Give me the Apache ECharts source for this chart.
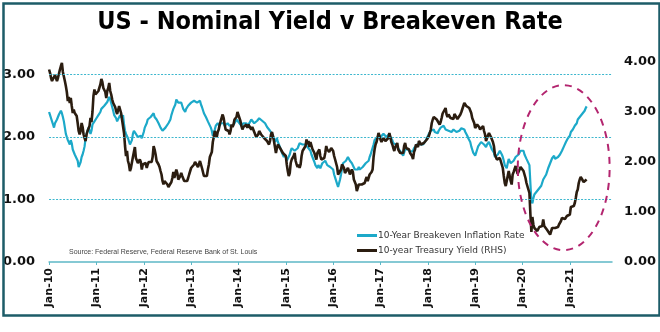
<!DOCTYPE html>
<html>
<head>
<meta charset="utf-8">
<script src="https://cdn.jsdelivr.net/npm/echarts@6/dist/echarts.min.js"></script>
<style>
html,body{margin:0;padding:0;background:#fff;}
#c{width:660px;height:332px;}
</style>
</head>
<body>
<div id="c"></div>
<script>
// Roughly weekly observations (4 per month), Jan 2010 - mid May 2021; one row per year
const startYear = 2010;
const pointsPerYear = 48;
const seriesNames = ['10-Year Breakeven Inflation Rate', '10-year Treasury Yield (RHS)'];
const xTickYears = [2010,2011,2012,2013,2014,2015,2016,2017,2018,2019,2020,2021];
const leftTicks = [0, 1, 2, 3];
const rightTicks = [0, 1, 2, 3, 4];

// 10-Year Breakeven Inflation Rate (left axis)
const breakeven = [
 2.40,2.35,2.30,2.25, 2.20,2.15,2.22,2.25, 2.28,2.32,2.36,2.38, 2.42,2.38,2.32,2.25, 2.15,2.05,2.00,1.95, 1.92,1.88,1.95,1.90, 1.80,1.78,1.72,1.75, 1.70,1.62,1.52,1.50, 1.60,1.68,1.72,1.78, 1.85,1.98,2.05,2.10, 2.15,2.12,2.05,2.10, 2.20,2.22,2.25,2.28,
 2.30,2.32,2.35,2.38, 2.40,2.45,2.42,2.48, 2.50,2.48,2.52,2.56, 2.60,2.64,2.60,2.58, 2.48,2.42,2.35,2.32, 2.30,2.25,2.22,2.28, 2.35,2.32,2.30,2.35, 2.20,2.10,2.05,2.08, 1.98,1.95,1.88,1.85, 1.95,2.05,2.10,2.12, 2.05,2.02,2.00,1.98, 1.98,2.02,1.98,2.00,
 2.08,2.15,2.18,2.22, 2.28,2.25,2.30,2.32, 2.32,2.35,2.38,2.32, 2.30,2.28,2.25,2.22, 2.20,2.15,2.12,2.10, 2.08,2.12,2.15,2.12, 2.18,2.22,2.25,2.28, 2.35,2.40,2.45,2.42, 2.52,2.60,2.62,2.55, 2.55,2.52,2.55,2.50, 2.45,2.42,2.40,2.45, 2.48,2.50,2.52,2.48,
 2.55,2.58,2.56,2.58, 2.60,2.58,2.55,2.52, 2.55,2.58,2.52,2.48, 2.45,2.38,2.35,2.32, 2.30,2.25,2.28,2.22, 2.15,2.10,2.02,2.05, 2.12,2.18,2.20,2.22, 2.22,2.18,2.22,2.20, 2.25,2.22,2.18,2.15, 2.18,2.22,2.20,2.18, 2.18,2.15,2.18,2.20, 2.22,2.25,2.28,2.26,
 2.25,2.22,2.20,2.18, 2.18,2.22,2.20,2.24, 2.22,2.18,2.20,2.22, 2.25,2.28,2.25,2.28, 2.22,2.25,2.22,2.26, 2.28,2.30,2.32,2.28, 2.26,2.25,2.28,2.22, 2.20,2.16,2.18,2.15, 2.10,2.12,2.05,2.02, 1.98,1.92,1.95,1.98, 1.92,1.88,1.85,1.80, 1.75,1.72,1.68,1.72,
 1.68,1.62,1.60,1.65, 1.72,1.78,1.82,1.85, 1.82,1.78,1.75,1.80, 1.82,1.86,1.90,1.92, 1.92,1.88,1.85,1.86, 1.88,1.90,1.85,1.82, 1.80,1.78,1.72,1.68, 1.65,1.60,1.55,1.52, 1.50,1.55,1.58,1.50, 1.52,1.58,1.55,1.58, 1.62,1.60,1.55,1.58, 1.55,1.52,1.50,1.52,
 1.48,1.40,1.35,1.32, 1.25,1.20,1.22,1.32, 1.40,1.50,1.58,1.55, 1.60,1.62,1.65,1.68, 1.65,1.62,1.60,1.58, 1.58,1.55,1.48,1.45, 1.45,1.48,1.52,1.48, 1.50,1.48,1.52,1.50, 1.55,1.58,1.60,1.56, 1.62,1.68,1.72,1.70, 1.75,1.88,1.95,1.92, 1.98,2.00,2.02,1.98,
 2.00,2.02,2.00,2.05, 2.05,2.02,2.00,1.98, 2.00,2.05,2.00,1.98, 1.95,1.90,1.88,1.92, 1.88,1.85,1.82,1.85, 1.80,1.75,1.72,1.70, 1.75,1.80,1.82,1.80, 1.80,1.78,1.76,1.75, 1.75,1.78,1.82,1.85, 1.85,1.88,1.85,1.88, 1.88,1.90,1.85,1.88, 1.90,1.92,1.95,1.98,
 2.00,2.05,2.08,2.10, 2.10,2.08,2.12,2.08, 2.10,2.08,2.06,2.10, 2.12,2.15,2.18,2.16, 2.18,2.15,2.12,2.10, 2.12,2.10,2.12,2.08, 2.08,2.10,2.12,2.10, 2.12,2.08,2.06,2.08, 2.10,2.12,2.14,2.12, 2.15,2.12,2.08,2.05, 2.02,1.98,1.95,1.92, 1.85,1.80,1.75,1.72,
 1.70,1.75,1.80,1.85, 1.85,1.88,1.92,1.94, 1.92,1.88,1.85,1.84, 1.88,1.90,1.92,1.88, 1.85,1.80,1.78,1.75, 1.68,1.70,1.68,1.72, 1.75,1.78,1.76,1.72, 1.68,1.62,1.55,1.52, 1.50,1.58,1.65,1.62, 1.58,1.55,1.60,1.62, 1.65,1.68,1.65,1.68, 1.72,1.75,1.78,1.78,
 1.75,1.78,1.72,1.70, 1.65,1.68,1.62,1.55, 1.25,0.98,0.94,1.02, 1.08,1.05,1.12,1.10, 1.12,1.18,1.15,1.22, 1.25,1.32,1.30,1.35, 1.40,1.45,1.50,1.52, 1.58,1.62,1.66,1.68, 1.70,1.65,1.62,1.66, 1.68,1.70,1.72,1.74, 1.78,1.80,1.85,1.88, 1.92,1.95,1.98,2.00,
 2.02,2.08,2.10,2.12, 2.15,2.18,2.16,2.22, 2.28,2.30,2.32,2.30, 2.35,2.38,2.36,2.42, 2.46,2.49
];

// 10-year Treasury Yield (right axis)
const treasury = [
 3.85,3.78,3.68,3.62, 3.60,3.66,3.74,3.68, 3.62,3.68,3.72,3.85, 3.92,3.98,3.80,3.78, 3.62,3.52,3.40,3.22, 3.30,3.18,3.28,3.12, 2.98,3.05,2.98,3.02, 2.92,2.78,2.62,2.55, 2.62,2.78,2.70,2.55, 2.48,2.42,2.55,2.62, 2.60,2.72,2.88,2.80, 3.00,3.32,3.45,3.35,
 3.35,3.38,3.42,3.40, 3.55,3.66,3.60,3.48, 3.52,3.40,3.28,3.42, 3.48,3.58,3.42,3.35, 3.25,3.18,3.15,3.10, 3.02,2.96,2.95,3.12, 3.15,2.98,2.95,2.98, 2.58,2.32,2.12,2.22, 2.02,1.95,1.82,1.88, 1.90,2.10,2.20,2.30, 2.08,2.05,1.98,1.95, 2.05,2.00,1.85,1.95,
 1.97,1.92,1.98,1.88, 1.95,2.00,2.02,1.98, 2.00,2.10,2.32,2.25, 2.15,2.02,1.98,1.95, 1.90,1.82,1.75,1.62, 1.55,1.62,1.65,1.60, 1.55,1.50,1.46,1.52, 1.60,1.68,1.80,1.68, 1.65,1.85,1.78,1.65, 1.65,1.72,1.78,1.72, 1.70,1.62,1.60,1.65, 1.62,1.68,1.75,1.76,
 1.88,1.90,1.86,1.95, 2.00,1.98,2.02,1.90, 1.88,2.02,1.98,1.88, 1.80,1.72,1.70,1.68, 1.72,1.85,1.95,2.10, 2.15,2.20,2.40,2.50, 2.62,2.58,2.50,2.60, 2.65,2.75,2.82,2.85, 2.95,2.88,2.75,2.65, 2.62,2.68,2.62,2.55, 2.62,2.75,2.70,2.75, 2.85,2.88,2.90,3.00,
 2.98,2.88,2.82,2.72, 2.65,2.70,2.72,2.68, 2.75,2.68,2.75,2.72, 2.78,2.65,2.70,2.66, 2.60,2.55,2.50,2.48, 2.55,2.62,2.62,2.55, 2.58,2.52,2.48,2.50, 2.48,2.42,2.38,2.35, 2.42,2.55,2.60,2.52, 2.42,2.30,2.18,2.28, 2.35,2.38,2.32,2.25, 2.25,2.18,2.15,2.22,
 2.12,1.95,1.82,1.72, 1.78,1.98,2.05,2.05, 2.12,2.18,2.02,1.95, 1.90,1.95,1.88,1.95, 2.12,2.22,2.20,2.18, 2.32,2.45,2.35,2.42, 2.30,2.40,2.38,2.26, 2.22,2.18,2.15,2.05, 2.18,2.22,2.25,2.12, 2.05,2.08,2.02,2.08, 2.18,2.32,2.25,2.24, 2.20,2.22,2.28,2.25,
 2.22,2.12,2.05,2.02, 1.90,1.75,1.72,1.78, 1.85,1.95,1.92,1.88, 1.78,1.75,1.82,1.88, 1.82,1.75,1.80,1.85, 1.80,1.65,1.62,1.55, 1.42,1.38,1.55,1.52, 1.55,1.55,1.58,1.56, 1.58,1.65,1.70,1.62, 1.62,1.75,1.78,1.80, 1.85,2.10,2.25,2.35, 2.40,2.48,2.58,2.52,
 2.45,2.40,2.38,2.48, 2.48,2.42,2.45,2.38, 2.48,2.58,2.50,2.40, 2.35,2.28,2.22,2.30, 2.32,2.38,2.25,2.25, 2.18,2.20,2.15,2.18, 2.32,2.38,2.28,2.30, 2.25,2.25,2.18,2.20, 2.12,2.06,2.20,2.25, 2.35,2.35,2.30,2.42, 2.38,2.35,2.35,2.38, 2.38,2.38,2.42,2.45,
 2.45,2.52,2.58,2.65, 2.78,2.85,2.90,2.88, 2.88,2.85,2.85,2.82, 2.75,2.80,2.88,2.97, 2.97,3.00,3.08,2.95, 2.90,2.95,2.92,2.88, 2.85,2.85,2.86,2.96, 2.98,2.92,2.86,2.82, 2.90,2.95,3.00,3.06, 3.10,3.18,3.15,3.12, 3.15,3.12,3.08,3.05, 2.98,2.88,2.85,2.78,
 2.68,2.70,2.75,2.72, 2.70,2.65,2.68,2.66, 2.72,2.62,2.55,2.42, 2.48,2.52,2.58,2.55, 2.50,2.45,2.40,2.32, 2.15,2.12,2.05,2.02, 2.02,2.08,2.12,2.06, 1.88,1.72,1.58,1.52, 1.50,1.72,1.82,1.72, 1.62,1.55,1.75,1.80, 1.80,1.92,1.85,1.76, 1.80,1.85,1.90,1.90,
 1.88,1.82,1.80,1.68, 1.58,1.60,1.55,1.38, 0.95,0.60,0.90,0.75, 0.68,0.72,0.65,0.62, 0.65,0.70,0.66,0.68, 0.72,0.85,0.72,0.70, 0.68,0.64,0.62,0.60, 0.55,0.58,0.68,0.65, 0.70,0.68,0.68,0.66, 0.70,0.75,0.78,0.82, 0.88,0.92,0.88,0.86, 0.90,0.92,0.94,0.92,
 0.95,1.10,1.10,1.08, 1.12,1.18,1.28,1.40, 1.45,1.58,1.65,1.70, 1.72,1.68,1.60,1.58, 1.62,1.65
];

const toXY = arr => arr.map((v, i) => [startYear + i / pointsPerYear, v]);

const chart = echarts.init(document.getElementById('c'), null, {renderer: 'canvas'});
const teal = '#3db7ce';
const cyan = '#1ca9c9';
const dark = '#2b1d10';

chart.setOption({
  animation: false,
  backgroundColor: '#fff',
  title: {
    text: 'US - Nominal Yield v Breakeven Rate',
    left: 'center', top: 5,
    textStyle: {fontFamily: 'DejaVu Sans Condensed', fontWeight: 'bold', fontSize: 25, color: '#000'}
  },
  legend: {
    orient: 'vertical', left: 352, top: 226, itemGap: 6,
    itemWidth: 20, itemHeight: 3, icon: 'rect',
    textStyle: {fontFamily: 'DejaVu Sans', fontSize: 9, color: '#333', padding: [0,0,0,-4]},
    data: seriesNames
  },
  grid: {left: 49, right: 48, top: 62, bottom: 70},
  xAxis: {
    type: 'value', min: 2010, max: 2021.89, interval: 1,
    axisLine: {lineStyle: {color: '#5db8c6', width: 1.5}},
    axisTick: {length: 3, lineStyle: {color: '#5db8c6'}},
    splitLine: {show: false},
    axisLabel: {
      rotate: 90, margin: 6, showMaxLabel: false,
      fontFamily: 'DejaVu Sans', fontWeight: 'bold', fontSize: 11, color: '#111',
      formatter: v => xTickYears.includes(Math.round(v)) && Math.abs(v - Math.round(v)) < 1e-6 ? 'Jan-' + String(Math.round(v)).slice(2) : ''
    }
  },
  yAxis: [
    {
      type: 'value', min: 0, max: 3.2, interval: 1,
      axisLine: {show: false}, axisTick: {show: false}, splitLine: {show: false},
      axisLabel: {showMaxLabel: false, margin: 14, fontFamily: 'DejaVu Sans', fontWeight: 'bold', fontSize: 13, color: '#111',
        formatter: v => leftTicks.includes(v) ? v.toFixed(2) : ''}
    },
    {
      type: 'value', min: 0, max: 4, interval: 1,
      axisLine: {show: false}, axisTick: {show: false}, splitLine: {show: false},
      axisLabel: {margin: 12, fontFamily: 'DejaVu Sans', fontWeight: 'bold', fontSize: 13, color: '#111',
        formatter: v => rightTicks.includes(v) ? v.toFixed(2) : ''}
    }
  ],
  series: [
    {
      name: seriesNames[0], type: 'line', yAxisIndex: 0, showSymbol: false, symbol: 'none',
      data: toXY(breakeven), color: cyan,
      lineStyle: {color: cyan, width: 2.2},
      markLine: {
        silent: true, symbol: 'none', label: {show: false},
        lineStyle: {color: teal, type: [2, 1.5], width: 1, opacity: 1},
        data: leftTicks.filter(v => v > 0).map(v => ({yAxis: v}))
      }
    },
    {
      name: seriesNames[1], type: 'line', yAxisIndex: 1, showSymbol: false, symbol: 'none',
      data: toXY(treasury), color: dark,
      lineStyle: {color: dark, width: 2.6}
    }
  ]
});

// Annotation ellipse around 2020-21 (anchored to data coordinates)
const c0 = chart.convertToPixel({xAxisIndex: 0, yAxisIndex: 0}, [2020.87, 1.51]);
const c1 = chart.convertToPixel({xAxisIndex: 0, yAxisIndex: 0}, [2021.84, 2.83]);
chart.setOption({
  graphic: [
    {type: 'rect', left: 1, top: 1, shape: {x: 0, y: 0, width: 656, height: 312},
     style: {fill: 'none', stroke: '#1d5c68', lineWidth: 2.5}, silent: true, z: 100},
    {type: 'ellipse', shape: {cx: c0[0], cy: c0[1], rx: c1[0] - c0[0], ry: c0[1] - c1[1]},
     style: {fill: 'none', stroke: '#b3256f', lineWidth: 2, lineDash: [7, 6]}, silent: true, z: 100},
    {type: 'text', left: 69, top: 249,
     style: {text: 'Source: Federal Reserve, Federal Reserve Bank of St. Louis', fontFamily: 'Liberation Sans', fontSize: 7, fill: '#444'}, silent: true}
  ]
});
</script>
</body>
</html>
